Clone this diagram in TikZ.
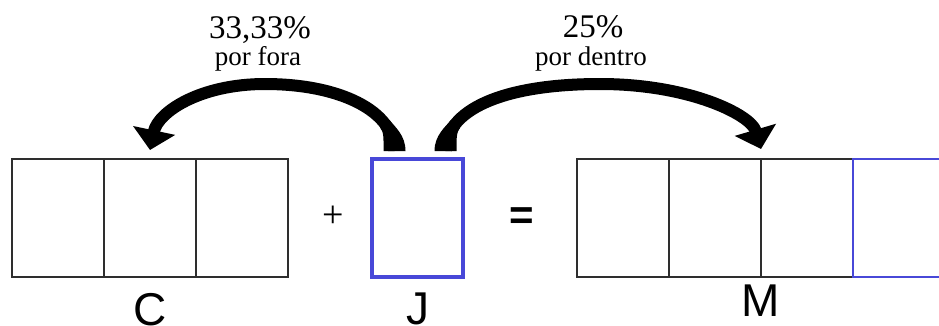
\documentclass[tikz,border=0pt]{standalone}
\usepackage{fontspec}
\setmainfont{Liberation Serif}
\setsansfont{Liberation Sans}
\usetikzlibrary{positioning,arrows.meta}
\definecolor{BarLine}{HTML}{2E2E2E}
\definecolor{BarBlue}{HTML}{4848D8}

\begin{document}
\begin{tikzpicture}[x=1pt,y=-1pt,
    cell/.style={draw=BarLine,line width=2.4pt,minimum width=92pt,minimum height=118pt,inner sep=0pt,outer sep=0pt},
    jcell/.style={cell,draw=BarBlue,line width=3.4pt,minimum width=91pt},
    mcell/.style={cell,draw=BarBlue,line width=2.4pt},
    letter/.style={font=\sffamily\fontsize{46}{46}\selectfont,inner sep=0pt},
    pct/.style={font=\fontsize{33}{33}\selectfont,inner sep=0pt,anchor=base},
    how/.style={font=\fontsize{27}{27}\selectfont,inner sep=0pt,anchor=base},
    bigarrow/.style={line width=12pt,-{Triangle[width=42pt,length=20pt]}}]
  \useasboundingbox (0,0) rectangle (939,325);
  % capital
  \node[cell] (c1) at (58,218) {};
  \node[cell,right=0pt of c1] (c2) {};
  \node[cell,right=0pt of c2] (c3) {};
  % juros
  \node[jcell] (j) at (417.5,218) {};
  % montante
  \node[cell] (m1) at (623,218) {};
  \node[cell,right=0pt of m1] (m2) {};
  \node[cell,right=0pt of m2] (m3) {};
  \node[mcell,right=0pt of m3] (m4) {};
  % sinais
  \node[font=\fontsize{38}{38}\selectfont,inner sep=0pt] (plus) at (333,217) {+};
  \node[font=\sffamily\bfseries\fontsize{42}{42}\selectfont,inner sep=0pt] (eq) at (522,219) {=};
  % letras
  \node[letter,below=16pt of c2] (labc) {C};
  \node[letter,below=16pt of j] (labj) {J};
  \node[letter,below=8pt of m3.south west] (labm) {M};
  % taxas
  \node[pct] (pctl) at (260,38) {33,33\%};
  \node[how] (howl) at (258,65) {por fora};
  \node[pct] (pctr) at (593,37) {25\%};
  \node[how] (howr) at (591,65) {por dentro};
  % setas
  \coordinate[above left=8pt and 23pt of j.north] (jl);
  \coordinate[above right=8pt and 28pt of j.north] (jr);
  \coordinate[above=9pt of c2.north] (ctip);
  \coordinate[above=10pt of m3.north west] (mtip);
  \coordinate (ltop) at (265,84);
  \coordinate (rtop) at (600,84);
  \draw[bigarrow] (jl) .. controls +(0,-40) and +(75,0) .. (ltop) .. controls +(-65,0) and +(8,-38) .. (ctip);
  \draw[bigarrow] (jr) .. controls +(0,-40) and +(-100,0) .. (rtop) .. controls +(90,0) and +(-10,-34) .. (mtip);
  % base mais grossa
  \fill (jl) ++(-11,0) -- ++(22,0) .. controls +(0,-16) and +(5,6.5) .. ++(-16,-31)
    -- ++(-9.4,7.4) .. controls +(4,5) and +(0,-12) .. ++(3.4,23.6) -- cycle;
  \fill (jr) ++(-11,0) -- ++(22,0) .. controls +(0,-12) and +(-4,5) .. ++(3.7,-23.5)
    -- ++(-9.2,-7.6) .. controls +(-5,6.5) and +(0,-16) .. ++(-16.5,31.1) -- cycle;
\end{tikzpicture}
\end{document}
